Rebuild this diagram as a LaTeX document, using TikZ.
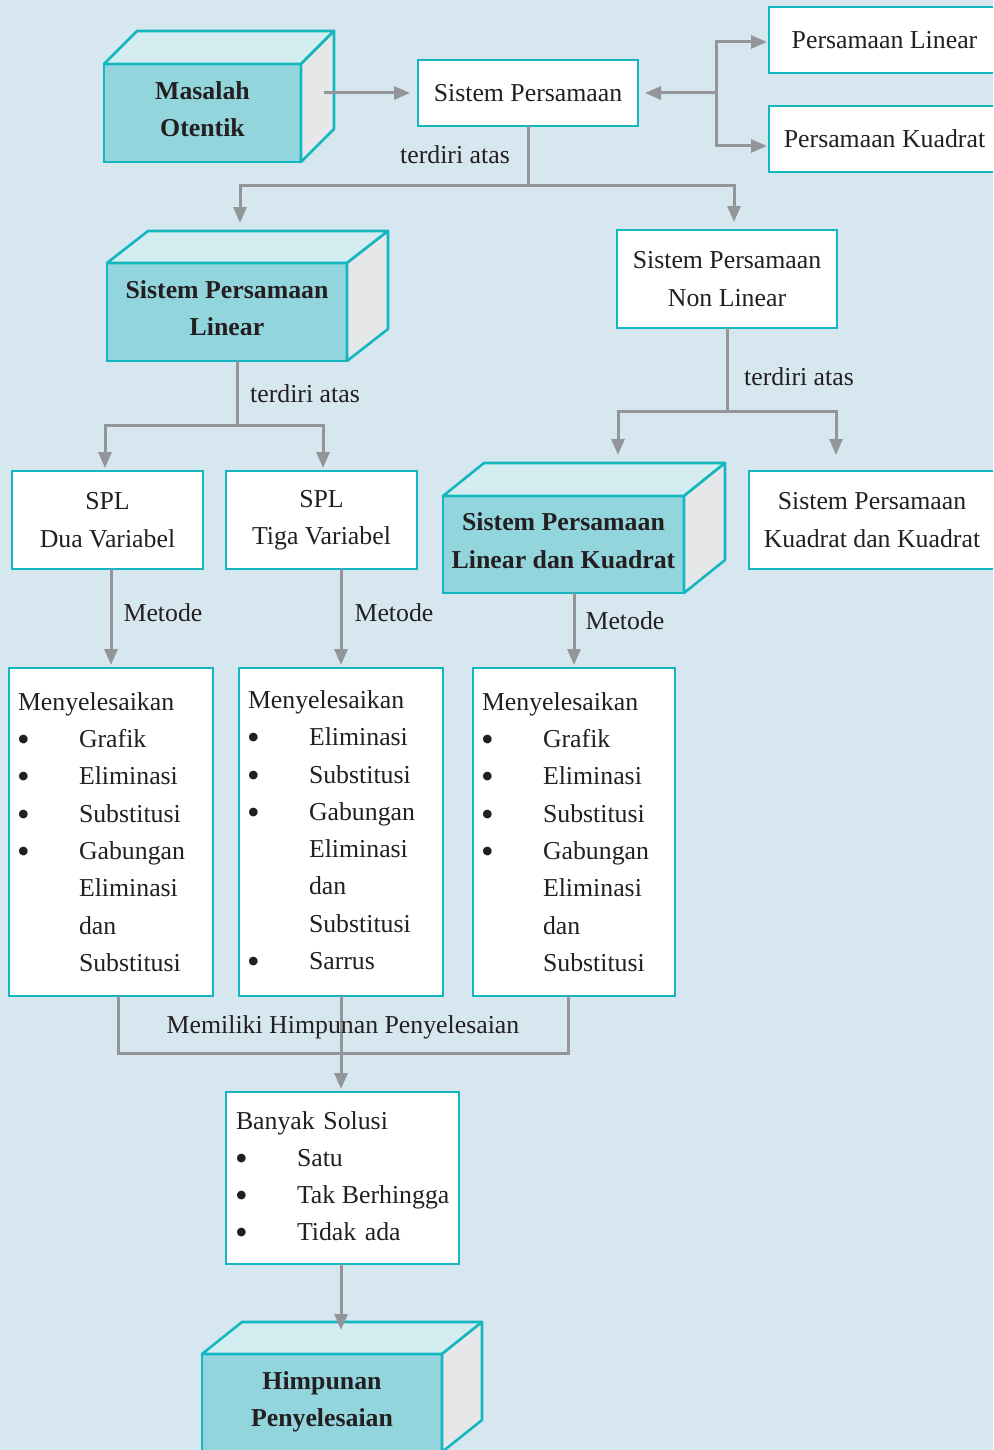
\documentclass[tikz,border=0pt]{standalone}
\usepackage{fontspec}
\setmainfont{Liberation Serif}
\usetikzlibrary{arrows.meta,calc}
\definecolor{bgc}{HTML}{D6E7EF}
\definecolor{tealb}{HTML}{14B7BF}
\definecolor{frontc}{HTML}{93D5DC}
\definecolor{topc}{HTML}{D4EDF1}
\definecolor{sidec}{HTML}{E6E7E9}
\definecolor{grayl}{HTML}{939598}
\definecolor{ink}{HTML}{231F20}
\newcommand\blt{\raisebox{-4pt}{\scalebox{1.4}{\textbullet}}}
\newcommand\itm[1]{\makebox[61pt][l]{\hspace*{-1pt}\blt}\mbox{#1}}
\newcommand\ind[1]{\hspace*{61pt}\mbox{#1}}
\newcommand\cubefaces[3]{%
  \filldraw[facestyle, fill=topc] (#1.north west) -- ++(#2,#3) -- ($(#1.north east)+(#2,#3)$) -- (#1.north east) -- cycle;
  \filldraw[facestyle, fill=sidec] (#1.north east) -- ++(#2,#3) -- ($(#1.south east)+(#2,#3)$) -- (#1.south east) -- cycle;}
\begin{document}
\begin{tikzpicture}[x=1pt,y=-1pt,
  txt/.style={font=\fontsize{25.8}{37.3}\selectfont, text=ink},
  box/.style={txt, draw=tealb, line width=2.6pt, fill=white, inner sep=0pt, outer sep=0pt, align=center},
  front/.style={box, fill=frontc, font=\fontsize{25.8}{37.3}\selectfont\bfseries, text depth=8pt},
  facestyle/.style={draw=tealb, line width=2.6pt, line join=round},
  listbox/.style={box, align=left, inner xsep=9pt},
  conn/.style={draw=grayl, line width=3pt},
  arr/.style={conn, -{Triangle[length=16pt,width=13pt]}},
  lbl/.style={txt, inner sep=0pt}]
\useasboundingbox (0,0) rectangle (993,1450);
\fill[bgc] (0,0) rectangle (993,1450);
\clip (0,0) rectangle (993,1450);

% cubes
\node[front, minimum width=197pt, minimum height=98pt] (mo) at (202.5,113) {Masalah\\Otentik};
\cubefaces{mo}{33}{-33}
\node[front, minimum width=240pt, minimum height=98pt] (splc) at (227,312) {Sistem Persamaan\\Linear};
\cubefaces{splc}{41}{-32}
\node[front, minimum width=241pt, minimum height=97pt] (splk) at (563.5,544.5) {Sistem Persamaan\\Linear dan Kuadrat};
\cubefaces{splk}{41}{-33}
\node[front, minimum width=240pt, minimum height=98pt] (hp) at (322,1403) {Himpunan\\Penyelesaian};
\cubefaces{hp}{40}{-32}

% boxes
\node[box, minimum width=220pt, minimum height=66pt] (sp) at (528,93) {Sistem Persamaan};
\node[box, minimum width=231pt, minimum height=66pt] (pl) at (884.5,40) {Persamaan Linear};
\node[box, minimum width=231pt, minimum height=66pt] (pk) at (884.5,139) {Persamaan Kuadrat};
\node[box, minimum width=220pt, minimum height=98pt] (spnl) at (727,279) {Sistem Persamaan\\Non Linear};
\node[box, minimum width=191pt, minimum height=98pt] (spl2) at (107.5,520) {SPL\\Dua Variabel};
\node[box, minimum width=191pt, minimum height=98pt] (spl3) at (321.5,520) {SPL\\Tiga Variabel};
\node[box, minimum width=246pt, minimum height=98pt] (spkk) at (872,520) {Sistem Persamaan\\Kuadrat dan Kuadrat};

\node[listbox, minimum height=328pt, text width=186pt] (m1) at (111,832)
  {Menyelesaikan\\\itm{Grafik}\\\itm{Eliminasi}\\\itm{Substitusi}\\\itm{Gabungan}\\\ind{Eliminasi}\\\ind{dan}\\\ind{Substitusi}};
\node[listbox, minimum height=328pt, text width=186pt] (m2) at (341,832)
  {Menyelesaikan\\\itm{Eliminasi}\\\itm{Substitusi}\\\itm{Gabungan}\\\ind{Eliminasi}\\\ind{dan}\\\ind{Substitusi}\\\itm{Sarrus}};
\node[listbox, minimum height=328pt, text width=184pt] (m3) at (574,832)
  {Menyelesaikan\\\itm{Grafik}\\\itm{Eliminasi}\\\itm{Substitusi}\\\itm{Gabungan}\\\ind{Eliminasi}\\\ind{dan}\\\ind{Substitusi}};
\node[listbox, inner xsep=10pt, minimum height=172pt, text width=213pt] (bs) at (342.5,1178)
  {Banyak Solusi\\\itm{Satu}\\\itm{Tak\hspace{-2pt} Berhingga}\\\itm{Tidak ada}};

% connectors
\coordinate (moA) at (324,93);
\draw[arr, shorten >=8pt] (moA) -- (sp.west);
\coordinate (j1) at (716,93);
\draw[arr, shorten >=7pt] (j1) -- (sp.east);
\draw[arr, shorten >=2pt] (j1) |- ($(pl.west)+(0,2)$);
\draw[arr, shorten >=2pt] (j1) |- ($(pk.west)+(0,7)$);

\coordinate (j2) at (528,186);
\coordinate (splT) at (240,223);
\draw[conn] (sp.south) -- (j2);
\draw[arr] (j2) -| (splT);
\draw[arr, shorten >=8pt] (j2) -| ($(spnl.north)+(7,0)$);
\node[lbl] (t1) at (455,155) {terdiri atas};

\coordinate (j3) at (237,425);
\draw[conn] (splc.south -| j3) -- (j3);
\draw[arr, shorten >=3pt] (j3) -| ($(spl2.north)+(-2.5,0)$);
\draw[arr, shorten >=3pt] (j3) -| ($(spl3.north)+(1.5,0)$);
\node[lbl] (t2) at (305,394) {terdiri atas};

\coordinate (j4) at (727,411);
\coordinate (splkT) at (618,455);
\coordinate (spkkT) at (836,455);
\draw[conn] (spnl.south) -- (j4);
\draw[arr] (j4) -| (splkT);
\draw[arr] (j4) -| (spkkT);
\node[lbl] (t3) at (799,377) {terdiri atas};

\draw[arr, shorten >=3pt] (spl2.south -| m1.north) -- (m1.north);
\draw[arr, shorten >=3pt] (spl3.south -| m2.north) -- (m2.north);
\draw[arr, shorten >=3pt] (splk.south -| m3.north) -- (m3.north);
\node[lbl] (me1) at (163,613) {Metode};
\node[lbl] (me2) at (394,613) {Metode};
\node[lbl] (me3) at (625,621) {Metode};

\coordinate (b1) at (118,1053);
\coordinate (b3) at (568,1053);
\draw[conn] (m1.south -| b1) -- (b1) -- (b3) -- (m3.south -| b3);
\draw[arr, shorten >=3pt] (m2.south) -- (m2.south |- bs.north);
\node[lbl] (mh) at (343,1027) {Memiliki Himpunan Penyelesaian};

\coordinate (hpT) at (341,1330);
\draw[arr] (bs.south -| hpT) -- (hpT);
\end{tikzpicture}
\end{document}
